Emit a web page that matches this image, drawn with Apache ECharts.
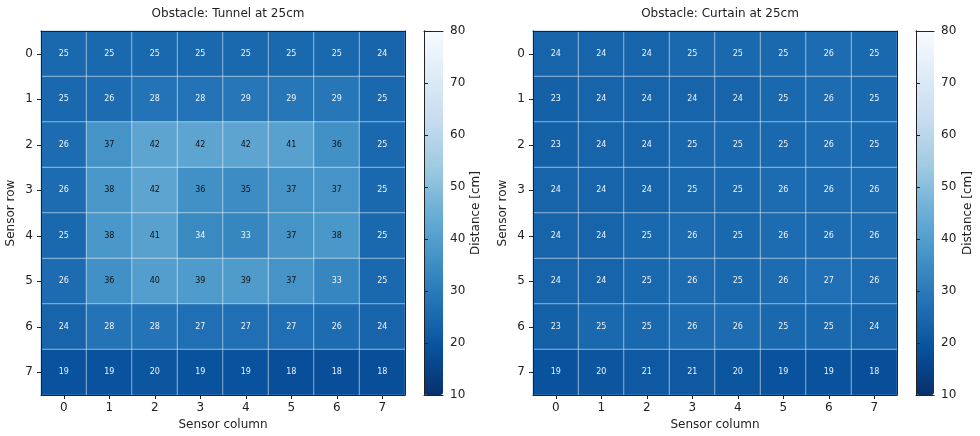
<!DOCTYPE html>
<html>
<head>
<meta charset="utf-8">
<title>Obstacle distance maps</title>
<script src="https://cdn.jsdelivr.net/npm/echarts@6/dist/echarts.min.js"></script>
<style>
  html, body { margin: 0; padding: 0; background: #fff; }
  #chart { width: 980px; height: 436px; }
</style>
</head>
<body>
<div id="chart"></div>
<script>
// 8x8 distance sensor readings, rows top to bottom, columns left to right (cm)
const sensorRows = ['0', '1', '2', '3', '4', '5', '6', '7'];
const sensorCols = ['0', '1', '2', '3', '4', '5', '6', '7'];

const tunnelDistances = [
  [25, 25, 25, 25, 25, 25, 25, 24],
  [25, 26, 28, 28, 29, 29, 29, 25],
  [26, 37, 42, 42, 42, 41, 36, 25],
  [26, 38, 42, 36, 35, 37, 37, 25],
  [25, 38, 41, 34, 33, 37, 38, 25],
  [26, 36, 40, 39, 39, 37, 33, 25],
  [24, 28, 28, 27, 27, 27, 26, 24],
  [19, 19, 20, 19, 19, 18, 18, 18]
];

const curtainDistances = [
  [24, 24, 24, 25, 25, 25, 26, 25],
  [23, 24, 24, 24, 24, 25, 26, 25],
  [23, 24, 24, 25, 25, 25, 26, 25],
  [24, 24, 24, 25, 25, 26, 26, 26],
  [24, 24, 25, 26, 25, 26, 26, 26],
  [24, 24, 25, 26, 25, 26, 27, 26],
  [23, 25, 25, 26, 26, 25, 25, 24],
  [19, 20, 21, 21, 20, 19, 19, 18]
];

const panelTitles = ['Obstacle: Tunnel at 25cm', 'Obstacle: Curtain at 25cm'];
const colorRange = { min: 10, max: 80, step: 10 };

// Blues colormap, reversed: low distance = dark blue
const bluesReversed = ['#08306b', '#08519c', '#2171b5', '#4292c6', '#6baed6',
                       '#9ecae1', '#c6dbef', '#deebf7', '#f7fbff'];

const FONT = 'DejaVu Sans';
const INK = '#222';

// panel layout
const panels = [
  { heat: { left: 41, top: 31, width: 364, height: 364 }, bar: { left: 424, top: 31, width: 19, height: 364 }, barNameGap: 27 },
  { heat: { left: 533, top: 31, width: 364, height: 364 }, bar: { left: 916, top: 31, width: 18, height: 364 }, barNameGap: 28 }
];

function cellData(matrix) {
  const out = [];
  matrix.forEach((row, r) => {
    row.forEach((v, c) => {
      out.push({
        value: [c, r, v],
        label: { color: v >= 35 ? '#111' : '#eef3f8' }
      });
    });
  });
  return out;
}

const grid = [], xAxis = [], yAxis = [], series = [], visualMap = [], title = [];
const frameLine = { show: true, lineStyle: { color: INK, width: 1 } };
const off = { show: false };

panels.forEach((p, i) => {
  const hg = grid.length;
  grid.push(p.heat);
  const bg = grid.length;
  grid.push(p.bar);

  title.push({
    text: panelTitles[i],
    left: p.heat.left + p.heat.width / 2,
    top: 3,
    textAlign: 'center',
    textStyle: { fontFamily: FONT, fontSize: 12, fontWeight: 'normal', color: INK }
  });

  // heatmap axes
  const hx = xAxis.length;
  xAxis.push({
    type: 'category', gridIndex: hg, data: sensorCols, position: 'bottom', z: 10,
    name: 'Sensor column', nameLocation: 'middle', nameGap: 24,
    nameTextStyle: { fontFamily: FONT, fontSize: 12, color: INK },
    axisLine: frameLine,
    axisTick: { show: true, alignWithLabel: true, length: 4, lineStyle: { color: INK } },
    axisLabel: { fontFamily: FONT, fontSize: 12, color: INK, margin: 7 },
    splitLine: off
  });
  xAxis.push({
    type: 'category', gridIndex: hg, data: sensorCols, position: 'top', z: 10,
    axisLine: frameLine, axisTick: off, axisLabel: off, splitLine: off
  });
  const hy = yAxis.length;
  yAxis.push({
    type: 'category', gridIndex: hg, data: sensorRows, inverse: true, position: 'left', z: 10,
    name: 'Sensor row', nameLocation: 'middle', nameGap: 24, nameRotate: 90,
    nameTextStyle: { fontFamily: FONT, fontSize: 12, color: INK },
    axisLine: frameLine,
    axisTick: { show: true, alignWithLabel: true, length: 4, lineStyle: { color: INK } },
    axisLabel: { fontFamily: FONT, fontSize: 12, color: INK, margin: 8 },
    splitLine: off
  });
  yAxis.push({
    type: 'category', gridIndex: hg, data: sensorRows, inverse: true, position: 'right', z: 10,
    axisLine: frameLine, axisTick: off, axisLabel: off, splitLine: off
  });

  // colorbar frame and scale
  xAxis.push({ type: 'value', gridIndex: bg, min: 0, max: 1, position: 'bottom', z: 10,
    axisLine: frameLine, axisTick: off, axisLabel: off, splitLine: off });
  xAxis.push({ type: 'value', gridIndex: bg, min: 0, max: 1, position: 'top', z: 10,
    axisLine: frameLine, axisTick: off, axisLabel: off, splitLine: off });
  yAxis.push({
    type: 'value', gridIndex: bg, min: colorRange.min, max: colorRange.max, interval: colorRange.step,
    position: 'right', z: 10,
    name: 'Distance [cm]', nameLocation: 'middle', nameGap: p.barNameGap, nameRotate: 90,
    nameTextStyle: { fontFamily: FONT, fontSize: 12, color: INK },
    axisLine: frameLine,
    axisTick: { show: true, length: 4, lineStyle: { color: INK } },
    axisLabel: { fontFamily: FONT, fontSize: 12, color: INK, margin: 7 },
    splitLine: off
  });
  yAxis.push({ type: 'value', gridIndex: bg, min: colorRange.min, max: colorRange.max, position: 'left', z: 10,
    axisLine: frameLine, axisTick: off, axisLabel: off, splitLine: off });

  const sIdx = series.length;
  series.push({
    type: 'heatmap',
    xAxisIndex: hx, yAxisIndex: hy,
    data: cellData(i === 0 ? tunnelDistances : curtainDistances),
    itemStyle: { borderColor: 'rgba(255,255,255,0.6)', borderWidth: 0.8 },
    label: { show: true, fontFamily: FONT, fontSize: 8, formatter: (d) => d.value[2] },
    emphasis: { disabled: true }
  });

  visualMap.push({
    type: 'continuous',
    seriesIndex: sIdx,
    dimension: 2,
    min: colorRange.min, max: colorRange.max,
    calculable: false, hoverLink: false,
    orient: 'vertical',
    left: p.bar.left, top: p.bar.top,
    itemWidth: p.bar.width, itemHeight: p.bar.height,
    padding: 0,
    text: null,
    inRange: { color: bluesReversed }
  });
});

const chart = echarts.init(document.getElementById('chart'), null, { renderer: 'canvas' });
chart.setOption({
  animation: false,
  backgroundColor: '#fff',
  textStyle: { fontFamily: FONT },
  title, grid, xAxis, yAxis, visualMap, series
});
</script>
</body>
</html>
